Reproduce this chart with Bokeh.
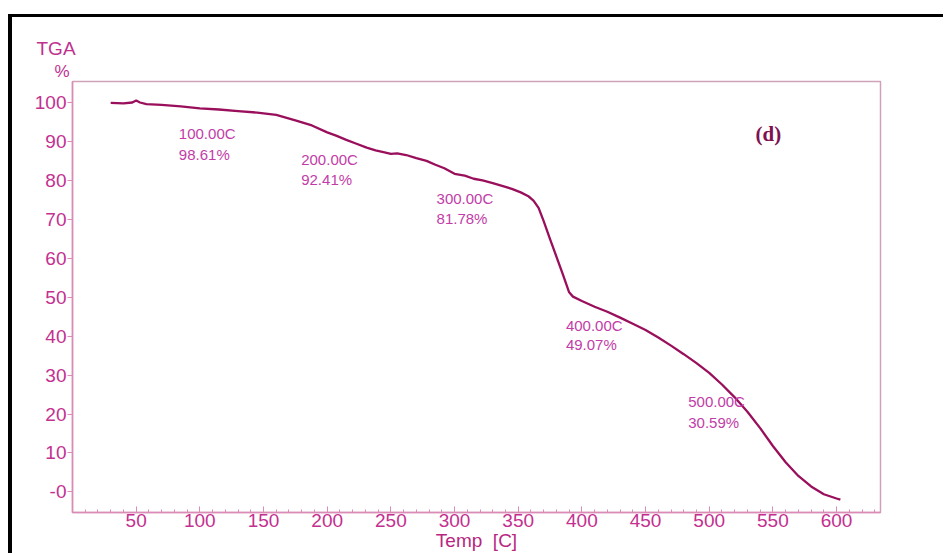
from bokeh.plotting import figure
from bokeh.models import Range1d, FixedTicker, ColumnDataSource, Label, Title
from bokeh.core.properties import value
from bokeh.embed import file_html
from bokeh.resources import INLINE

# TGA weight-loss curve (temperature in C, residual mass in %)
temp = [30, 40, 47, 50, 53, 58, 70, 85, 100, 115, 130, 145, 160, 175, 188, 200,
        207, 215, 223, 231, 238, 245, 250, 255, 262, 270, 278, 285, 292, 300,
        308, 315, 322, 330, 338, 345, 352, 358, 362, 366, 370, 375, 380, 385,
        390, 393, 400, 410, 420, 430, 440, 450, 460, 470, 480, 490, 500,
        510, 520, 530, 540, 550, 560, 570, 580, 590, 600, 603]
tga = [100.0, 99.9, 100.1, 100.6, 100.1, 99.7, 99.5, 99.1, 98.61, 98.3, 97.9, 97.5,
       96.9, 95.5, 94.2, 92.41, 91.6, 90.5, 89.5, 88.5, 87.8, 87.3, 86.9, 87.0,
       86.6, 85.8, 85.1, 84.1, 83.2, 81.78, 81.3, 80.5, 80.1, 79.4, 78.6, 77.9,
       77.0, 76.0, 74.9, 73.0, 69.6, 65.0, 60.5, 56.0, 51.3, 50.2, 49.07, 47.6,
       46.3, 44.8, 43.2, 41.6, 39.7, 37.6, 35.4, 33.1, 30.59, 27.6, 24.3, 20.6,
       16.4, 11.8, 7.6, 4.1, 1.4, -0.6, -1.7, -2.0]

# marked points along the curve
mark_temp = [100.0, 200.0, 300.0, 400.0, 500.0]
mark_tga = [98.61, 92.41, 81.78, 49.07, 30.59]

x_major = [50, 100, 150, 200, 250, 300, 350, 400, 450, 500, 550, 600]
x_minor = list(range(10, 640, 10))
y_major = [0, 10, 20, 30, 40, 50, 60, 70, 80, 90, 100]

SANS = "Liberation Sans"
CURVE = "#990f5b"
TICK_TXT = "#c4308f"
NOTE_TXT = "#c23ca8"
AXIS_LINE = "#dc8ab8"
TITLE_TXT = "#c0308e"

p = figure(width=935, height=539, output_backend="svg", toolbar_location=None,
           x_range=Range1d(0, 634.5), y_range=Range1d(-5.3, 105.5),
           min_border_left=60, min_border_top=64, min_border_right=67,
           min_border_bottom=44, margin=(14, 0, 0, 8),
           styles={"border-top": "3px solid black", "border-left": "4px solid black"})
p.background_fill_color = "white"
p.border_fill_color = "white"
p.outline_line_color = "#cfa2b8"
p.outline_line_width = 1.5
p.xgrid.grid_line_color = None
p.ygrid.grid_line_color = None

xa = p.xaxis[0]
xa.ticker = FixedTicker(ticks=x_major, minor_ticks=x_minor)
xa.major_tick_in = 6
xa.major_tick_out = 0
xa.minor_tick_in = 3
xa.minor_tick_out = 0
xa.major_label_standoff = 1
xa.axis_label = "Temp\u00a0\u00a0[C]"
xa.axis_label_standoff = 0
xa.axis_label_text_font = SANS
xa.axis_label_text_font_size = "19px"
xa.axis_label_text_font_style = "normal"
xa.axis_label_text_color = "#b8277f"

ya = p.yaxis[0]
ya.ticker = FixedTicker(ticks=y_major, minor_ticks=[])
ya.major_tick_in = 0
ya.major_tick_out = 5
ya.minor_tick_line_color = None
ya.major_label_standoff = 1
ya.major_label_overrides = {0: "-0"}

for ax in (xa, ya):
    ax.axis_line_color = AXIS_LINE
    ax.axis_line_width = 1.5
    ax.major_tick_line_color = AXIS_LINE
    ax.minor_tick_line_color = AXIS_LINE if ax is xa else None
    ax.major_label_text_font = SANS
    ax.major_label_text_font_size = "19px"
    ax.major_label_text_color = TICK_TXT

p.line(temp, tga, line_color=CURVE, line_width=2.3)

# value notes next to the marked points
src = ColumnDataSource(dict(
    x=mark_temp, y=mark_tga,
    t=[f"{t:.2f}C" for t in mark_temp],
    v=[f"{v:.2f}%" for v in mark_tga],
    dx=[-21, -26, -18, -16, -21],
    dy=[25, 27, 25, 24, 29],
    dy2=[46, 47, 45, 43, 50],
))
note_kw = dict(text_font=value(SANS), text_font_size="15px", text_color=NOTE_TXT,
               text_align="left", text_baseline="middle", source=src)
p.text(x="x", y="y", text="t", x_offset="dx", y_offset="dy", **note_kw)
p.text(x="x", y="y", text="v", x_offset="dx", y_offset="dy2", **note_kw)

p.add_layout(Label(x=546.5, y=92.1, text="(d)", text_font="Liberation Serif",
                   text_font_style="bold", text_font_size="21px", text_color="#7e1152",
                   text_align="center", text_baseline="middle"))

# y-axis title stacked above the axis: "TGA" over "%"
p.add_layout(Title(text="%", align="left", offset=-18, standoff=2,
                   text_font=SANS, text_font_size="17px", text_font_style="normal",
                   text_color=TITLE_TXT), "above")
p.add_layout(Title(text="TGA", align="left", offset=-36, standoff=0,
                   text_font=SANS, text_font_size="19px", text_font_style="normal",
                   text_color=TITLE_TXT), "above")

open("out.html", "w").write(file_html(p, INLINE))
